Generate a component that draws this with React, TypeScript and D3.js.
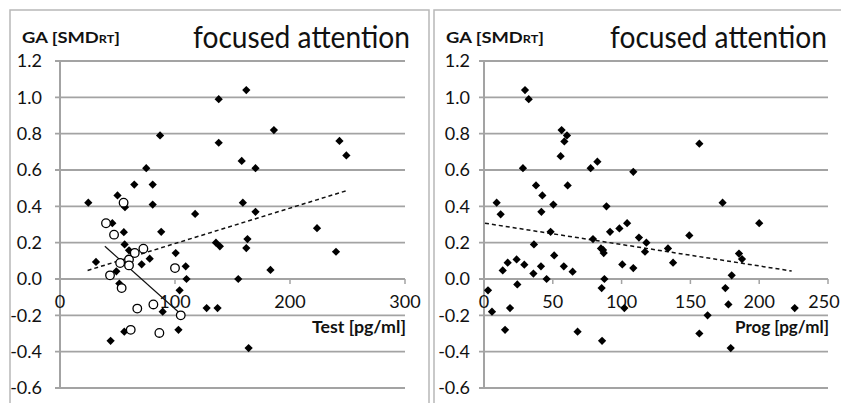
import React from 'react';
import * as d3 from 'd3';

// GA values against hormone levels
const testDiamonds: [number, number][] = [
  [138, 0.99], [162, 1.04], [186, 0.82], [87, 0.79], [138, 0.75], [243, 0.76],
  [249, 0.68], [158, 0.65], [170, 0.61], [75, 0.61], [64.6, 0.52], [80.6, 0.52],
  [50, 0.46], [24.6, 0.42], [56.5, 0.395], [80.6, 0.41], [45.5, 0.307], [55.5, 0.258],
  [88, 0.26], [117.5, 0.358], [159, 0.42], [170, 0.37], [223.5, 0.28], [240, 0.15],
  [135.6, 0.2], [139, 0.18], [163, 0.22], [162, 0.17], [183, 0.05], [155, 0.0],
  [100.6, 0.143], [109.3, 0.07], [110, 0.0], [104, -0.062], [127.5, -0.16], [137, -0.16],
  [89.3, -0.18], [103, -0.28], [164, -0.38], [44, -0.34], [55.9, -0.29], [31.3, 0.094],
  [49, 0.042], [56.2, 0.19], [60, 0.158], [71, 0.081], [78, 0.112], [51.6, -0.025],
];

const testCircles: [number, number][] = [
  [40, 0.307], [47, 0.244], [55.3, 0.42], [52.3, 0.088], [60, 0.107], [60, 0.075],
  [65, 0.143], [72.5, 0.167], [43.5, 0.02], [53.6, -0.05], [67.2, -0.163], [81.2, -0.14],
  [105, -0.2], [100, 0.06], [61.5, -0.28], [86.4, -0.297],
];

const progDiamonds: [number, number][] = [
  [29.8, 1.04], [32.5, 0.99], [56.4, 0.82], [60.3, 0.79], [58.4, 0.757], [55.7, 0.676],
  [28.3, 0.61], [77.5, 0.61], [82.4, 0.646], [108.5, 0.59], [156.5, 0.745], [37.8, 0.515],
  [60.8, 0.515], [42.4, 0.46], [9.2, 0.42], [173.4, 0.42], [12.1, 0.356], [41.7, 0.37],
  [50.4, 0.41], [36.3, 0.19], [48.4, 0.26], [51, 0.13], [13.6, 0.047], [17.2, 0.09],
  [23.7, 0.108], [29.3, 0.079], [35.9, 0.03], [41.4, 0.07], [45.5, 0.0], [58, 0.07],
  [64.4, 0.04], [89, 0.4], [91.6, 0.26], [98.4, 0.278], [104, 0.307], [79.2, 0.22],
  [85, 0.168], [86.5, 0.16], [87, 0.143], [87.5, 0.0], [85.5, -0.05], [100.5, 0.08],
  [108.5, 0.06], [112.6, 0.228], [118, 0.2], [117, 0.15], [133.7, 0.168], [137.4, 0.09],
  [149.2, 0.24], [185.3, 0.14], [187.5, 0.11], [200, 0.307], [180, 0.02], [175.4, -0.05],
  [177.6, -0.14], [179.3, -0.38], [162.5, -0.2], [156.5, -0.3], [225.8, -0.16], [102, -0.16],
  [85.8, -0.34], [68, -0.29], [18.9, -0.16], [15.3, -0.28], [5.8, -0.18], [2.9, -0.062],
  [24.2, -0.03],
];

// trend line end points
const testTrendAll: [number, number][] = [[24, 0.047], [249, 0.486]];
const testTrendCircles: [number, number][] = [[39, 0.18], [104, -0.187]];
const progTrend: [number, number][] = [[0.7, 0.307], [223.6, 0.044]];

const yTicks = [-0.6, -0.4, -0.2, 0, 0.2, 0.4, 0.6, 0.8, 1.0, 1.2];
const testTicks = [0, 100, 200, 300];
const progTicks = [0, 50, 100, 150, 200, 250];

const FONT = 'Lato, "Open Sans", sans-serif';
const GRID = '#a3a3a3';

const yScale = d3.scaleLinear().domain([-0.6, 1.2]).range([388, 61]);
const diamond = d3.symbol().type(d3.symbolSquare).size(34)();

type PanelProps = {
  xScale: d3.ScaleLinear<number, number>;
  xTicks: number[];
  xLabel: string;
  labelGap: number;
  titleEnd: number;
  children?: React.ReactNode;
};

function Panel({ xScale, xTicks, xLabel, labelGap, titleEnd, children }: PanelProps) {
  const [x0, x1] = xScale.range();
  const zeroY = yScale(0);
  return (
    <g>
      {yTicks.map(t => (
        <g key={t}>
          <line x1={x0 - 5} x2={x1} y1={yScale(t)} y2={yScale(t)} stroke={GRID} strokeWidth={1.8} />
          <text x={x0 - labelGap} y={yScale(t)} dy="0.36em" textAnchor="end"
            fontFamily={FONT} fontSize={18} fill="#111">
            {t.toFixed(1)}
          </text>
        </g>
      ))}
      <line x1={x0} x2={x0} y1={yScale(1.2)} y2={yScale(-0.6)} stroke={GRID} strokeWidth={2} />
      {xTicks.map(t => (
        <g key={t}>
          <line x1={xScale(t)} x2={xScale(t)} y1={zeroY} y2={zeroY + 5} stroke={GRID} strokeWidth={1.5} />
          <text x={Math.min(xScale(t), 824)} y={zeroY + 29} textAnchor="middle"
            fontFamily={FONT} fontSize={18} fill="#111">
            {t}
          </text>
        </g>
      ))}
      <text x={x1 + 1} y={zeroY + 54} textAnchor="end" fontFamily={FONT}
        fontSize={17} fontWeight="bold" fill="#111" textLength={94} lengthAdjust="spacingAndGlyphs">
        {xLabel}
      </text>
      <text x={x0 - 38} y={43} fontFamily={FONT} fontSize={16} fontWeight="bold" fill="#111"
        textLength={98} lengthAdjust="spacingAndGlyphs">
        GA [SMD<tspan fontSize={11}>RT</tspan>]
      </text>
      <text x={titleEnd} y={48} textAnchor="end" fontFamily={FONT} fontSize={31} fill="#111"
        textLength={217} lengthAdjust="spacingAndGlyphs">
        focused attention
      </text>
      {children}
    </g>
  );
}

export default function App() {
  const testX = d3.scaleLinear().domain([0, 300]).range([60, 405]);
  const progX = d3.scaleLinear().domain([0, 250]).range([484, 828]);
  const line = (sx: d3.ScaleLinear<number, number>) =>
    d3.line<[number, number]>().x(d => sx(d[0])).y(d => yScale(d[1]));

  return (
    <svg width={841} height={403} style={{ position: 'absolute', left: 0, top: 0, background: '#fff' }}>
      <rect width={841} height={403} fill="#fff" />
      {/* panel frames */}
      <path d="M10,403V10H429V403" fill="none" stroke="#b8b8b8" strokeWidth={1.5} />
      <path d="M434,403V10H841" fill="none" stroke="#b8b8b8" strokeWidth={1.5} />

      <Panel xScale={testX} xTicks={testTicks} xLabel="Test [pg/ml]" labelGap={18} titleEnd={410}>
        <path d={line(testX)(testTrendAll) || ''} stroke="#111" strokeWidth={1.5}
          strokeDasharray="4,3" fill="none" />
        <path d={line(testX)(testTrendCircles) || ''} stroke="#111" strokeWidth={1.2} fill="none" />
        {testDiamonds.map((d, i) => (
          <path key={i} d={diamond || ''} fill="#000"
            transform={`translate(${testX(d[0])},${yScale(d[1])}) rotate(45)`} />
        ))}
        {testCircles.map((d, i) => (
          <circle key={i} cx={testX(d[0])} cy={yScale(d[1])} r={4.3}
            fill="#fff" stroke="#000" strokeWidth={1.3} />
        ))}
      </Panel>

      <Panel xScale={progX} xTicks={progTicks} xLabel="Prog [pg/ml]" labelGap={14} titleEnd={827}>
        <path d={line(progX)(progTrend) || ''} stroke="#111" strokeWidth={1.5}
          strokeDasharray="4,3" fill="none" />
        {progDiamonds.map((d, i) => (
          <path key={i} d={diamond || ''} fill="#000"
            transform={`translate(${progX(d[0])},${yScale(d[1])}) rotate(45)`} />
        ))}
      </Panel>
    </svg>
  );
}
